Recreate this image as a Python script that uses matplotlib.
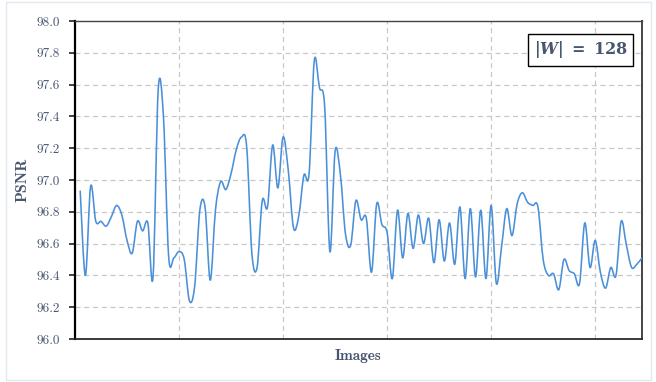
import numpy as np
import matplotlib
matplotlib.use("Agg")
import matplotlib.pyplot as plt
from matplotlib.path import Path
from matplotlib.patches import PathPatch, Rectangle

# ---- data ----
images = list(range(1, 110))
psnr = [
    96.93, 96.40, 96.96, 96.74, 96.74, 96.71, 96.77, 96.84, 96.78, 96.62,
    96.54, 96.74, 96.68, 96.73, 96.39, 97.57, 97.40, 96.52, 96.51, 96.55,
    96.50, 96.24, 96.33, 96.81, 96.83, 96.37, 96.81, 96.99, 96.94, 97.04,
    97.19, 97.27, 97.21, 96.54, 96.45, 96.87, 96.83, 97.22, 96.95, 97.27,
    97.06, 96.70, 96.77, 97.03, 97.04, 97.75, 97.58, 97.46, 96.55, 97.18,
    97.04, 96.66, 96.59, 96.87, 96.75, 96.76, 96.42, 96.85, 96.72, 96.67,
    96.38, 96.81, 96.51, 96.79, 96.57, 96.78, 96.60, 96.76, 96.48, 96.75,
    96.49, 96.73, 96.47, 96.83, 96.38, 96.82, 96.39, 96.81, 96.38, 96.84,
    96.35, 96.58, 96.82, 96.65, 96.85, 96.92, 96.86, 96.84, 96.83, 96.50,
    96.40, 96.41, 96.31, 96.50, 96.43, 96.41, 96.35, 96.73, 96.45, 96.62,
    96.42, 96.32, 96.45, 96.40, 96.74, 96.59, 96.45, 96.47, 96.51,
]
y_ticks = [96.0, 96.2, 96.4, 96.6, 96.8, 97.0, 97.2, 97.4, 97.6, 97.8, 98.0]
x_grid = [20, 40, 60, 80, 100]
y_label = "PSNR"
x_label = "Images"
legend_text = r"$|W|\;=\;\mathbf{128}$"

TEXT = "#48566f"
LINE = "#4a90d9"

plt.rcParams["mathtext.fontset"] = "custom"
plt.rcParams["mathtext.rm"] = "DejaVu Serif:bold"
plt.rcParams["mathtext.it"] = "DejaVu Serif:italic:bold"
plt.rcParams["mathtext.bf"] = "DejaVu Serif:bold"
plt.rcParams["axes.formatter.use_mathtext"] = True

fig = plt.figure(figsize=(6.56, 3.82), dpi=100)
fig.patch.set_facecolor("white")
ax = fig.add_axes([75 / 656, 43 / 382, 567 / 656, 318 / 382])

# smooth (Catmull-Rom style Bezier) path through data points
xs = np.array(images, dtype=float)
ys = np.array(psnr, dtype=float)
pts = np.column_stack([xs, ys])
verts = [pts[0]]
codes = [Path.MOVETO]
n = len(pts)
for i in range(n - 1):
    p0 = pts[i - 1] if i > 0 else pts[i]
    p1 = pts[i]
    p2 = pts[i + 1]
    p3 = pts[i + 2] if i + 2 < n else pts[i + 1]
    c1 = p1 + (p2 - p0) / 6.0
    c2 = p2 - (p3 - p1) / 6.0
    verts += [c1, c2, p2]
    codes += [Path.CURVE4] * 3
ax.add_patch(PathPatch(Path(verts, codes), fill=False, edgecolor=LINE,
                       lw=1.15, zorder=3, capstyle="round", joinstyle="round"))

ax.set_xlim(0, 109)
ax.set_ylim(96.0, 98.0)
ax.set_yticks(y_ticks)
ax.set_yticklabels([f"{v:.1f}" for v in y_ticks], fontfamily="cmr10",
                   fontsize=9.5, color=TEXT)
ax.set_xticks([])

for v in y_ticks[1:-1]:
    ax.axhline(v, color="#c8c8c8", lw=0.9, ls=(0, (4, 3)), zorder=1)
for v in x_grid:
    ax.axvline(v, color="#c8c8c8", lw=0.9, ls=(0, (4, 3)), zorder=1)

ax.tick_params(axis="y", direction="out", length=4, width=1.2,
               color="#222222", pad=7)

ax.spines["left"].set_color("black")
ax.spines["left"].set_linewidth(1.6)
ax.spines["bottom"].set_color("#2a2a2a")
ax.spines["bottom"].set_linewidth(1.3)
ax.spines["top"].set_color("#444444")
ax.spines["top"].set_linewidth(1.0)
ax.spines["right"].set_color("#444444")
ax.spines["right"].set_linewidth(1.4)

ax.set_ylabel(y_label, fontfamily="cmb10", fontsize=11.5, color=TEXT,
              labelpad=5)
ax.set_xlabel(x_label, fontfamily="cmb10", fontsize=11, color=TEXT,
              labelpad=7)

# legend-like box
bx0 = (528 - 75) / 567
by0 = (339 - 66) / 318
ax.add_patch(Rectangle((bx0, by0), 105 / 567, 32 / 318, transform=ax.transAxes,
                       facecolor="white", edgecolor="black", lw=1.0, zorder=5))
ax.text(bx0 + 52.5 / 567, by0 + 16 / 318, legend_text, transform=ax.transAxes,
        ha="center", va="center", fontsize=11.5, color=TEXT, zorder=6)

# figure frame
fig.add_artist(Rectangle((6 / 656, 2 / 382), 645 / 656, 378 / 382,
                         transform=fig.transFigure, fill=False,
                         edgecolor="#e3e7ee", lw=1.0))

fig.savefig("out.png", dpi=100)
